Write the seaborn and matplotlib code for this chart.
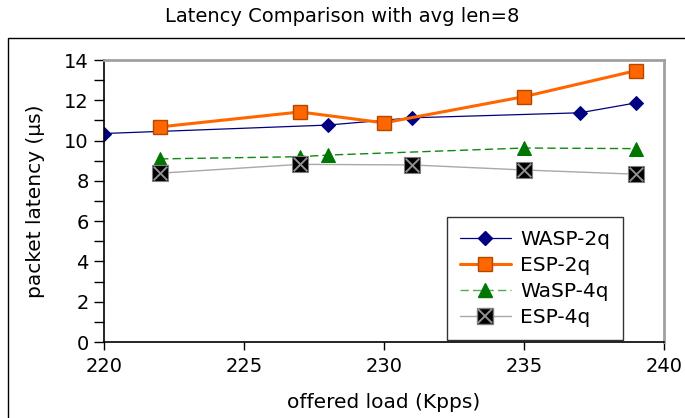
import matplotlib
matplotlib.use("Agg")
import matplotlib.pyplot as plt
import seaborn as sns
import numpy as np
from matplotlib.lines import Line2D
from matplotlib.legend_handler import HandlerTuple
from matplotlib.patches import Rectangle
from matplotlib.ticker import MultipleLocator

# Data
wasp2q_x = [220, 228, 231, 237, 239]
wasp2q_y = [10.35, 10.77, 11.13, 11.38, 11.87]
esp2q_x = [222, 227, 230, 235, 239]
esp2q_y = [10.68, 11.42, 10.88, 12.18, 13.47]
wasp4q_x = [222, 227, 228, 235, 239]
wasp4q_y = [9.09, 9.2, 9.28, 9.63, 9.6]
esp4q_x = [222, 227, 231, 235, 239]
esp4q_y = [8.38, 8.82, 8.79, 8.54, 8.33]
labels = ["WASP-2q", "ESP-2q", "WaSP-4q", "ESP-4q"]

sns.set_theme(style="white")
plt.rcParams['font.family'] = ['DejaVu Sans']
plt.rcParams['text.color'] = 'black'
plt.rcParams['axes.labelcolor'] = 'black'
plt.rcParams['xtick.color'] = 'black'
plt.rcParams['ytick.color'] = 'black'

fig = plt.figure(figsize=(6.85, 4.18), dpi=100)
ax = fig.add_axes([104/685, 1-342/418, 560/685, 282/418])

sns.lineplot(x=wasp2q_x, y=wasp2q_y, ax=ax, color="#000080", lw=0.9, marker="D",
             markersize=7.5, markeredgecolor="#000080", sort=False)
sns.lineplot(x=esp2q_x, y=esp2q_y, ax=ax, color="#ff6600", lw=2.2, marker="s",
             markersize=10.5, markeredgecolor="#b34700", markeredgewidth=1, sort=False)
sns.lineplot(x=wasp4q_x, y=wasp4q_y, ax=ax, color="#118811", lw=1.0, marker="^",
             markersize=10.5, markeredgecolor="#007700", markerfacecolor="#007700",
             linestyle=(0, (6, 3)), sort=False)
sns.lineplot(x=esp4q_x, y=esp4q_y, ax=ax, color="#a8a8a8", lw=1.0, marker="s",
             markersize=11.3, markerfacecolor="black", markeredgecolor="#808080",
             markeredgewidth=0.8, sort=False)
sns.scatterplot(x=esp4q_x, y=esp4q_y, ax=ax, marker="x", s=95, color="#909090",
                linewidth=1.4, zorder=5)

ax.set_xlim(220, 240)
ax.set_ylim(0, 14)
ax.xaxis.set_major_locator(MultipleLocator(5))
ax.yaxis.set_major_locator(MultipleLocator(2))
ax.yaxis.set_minor_locator(MultipleLocator(1))
ax.tick_params(axis='both', which='both', direction='out', width=1,
               color='black', labelsize=14, left=True, bottom=True, labelcolor='black')
ax.tick_params(axis='y', which='both', length=7, pad=4)
ax.tick_params(axis='x', which='major', length=6, pad=5)
ax.grid(False)
for s in ['left', 'bottom']:
    ax.spines[s].set_color('black')
    ax.spines[s].set_linewidth(1.2)
for s in ['top', 'right']:
    ax.spines[s].set_color('#a0a0a0')
    ax.spines[s].set_linewidth(2)

ax.set_xlabel("offered load (Kpps)", fontsize=14.5, labelpad=12, color='black')
ax.set_ylabel("packet latency (µs)", fontsize=14.5, labelpad=14, color='black')

h1 = Line2D([], [], color="#000080", lw=0.9, marker="D", markersize=7.5)
h2 = Line2D([], [], color="#ff6600", lw=2.2, marker="s", markersize=10.5,
            markeredgecolor="#b34700")
h3 = Line2D([], [], color="#55aa55", lw=1.0, marker="^", markersize=10.5,
            markerfacecolor="#007700", markeredgecolor="#007700", linestyle=(0, (6, 3)))
h4a = Line2D([], [], color="#a8a8a8", lw=1.0, marker="s", markersize=11.3,
             markerfacecolor="black", markeredgecolor="#808080")
h4b = Line2D([], [], color="#909090", lw=0, marker="x", markersize=9.5, markeredgewidth=1.4)
leg = ax.legend([h1, h2, h3, (h4a, h4b)], labels,
                handler_map={tuple: HandlerTuple(ndivide=1)},
                loc="lower left", bbox_to_anchor=(0.6125, 0.007), borderaxespad=0,
                fontsize=14.5, frameon=True, fancybox=False, handlelength=2.55,
                labelspacing=0.36, borderpad=0.63, handletextpad=0.45)
leg.get_frame().set_edgecolor('black')
leg.get_frame().set_linewidth(1)
for t in leg.get_texts():
    t.set_color('black')

fig.text(0.5, 1-17/418, "Latency Comparison with avg len=8", ha='center', va='center',
         fontsize=14, color='black')
fig.patches.append(Rectangle((8/685, -0.2), 1.5, 1.2 - 38/418, transform=fig.transFigure,
                             fill=False, edgecolor='black', linewidth=1))

fig.savefig("out.png", dpi=100)
